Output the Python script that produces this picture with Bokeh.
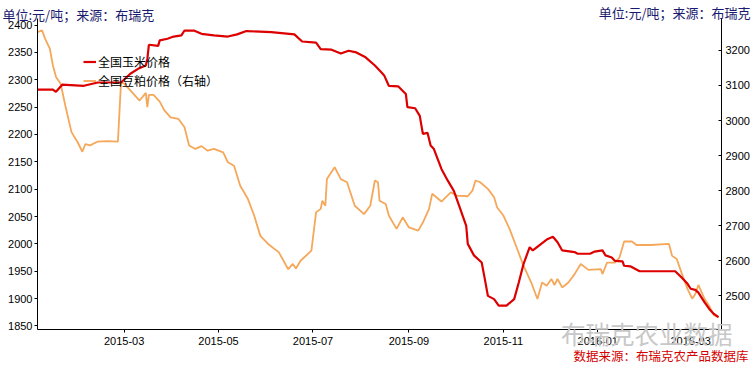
import pandas as pd
from bokeh.plotting import figure
from bokeh.models import (Range1d, LinearAxis, FixedTicker, DatetimeTickFormatter,
                          Legend, LegendItem, Title)
from bokeh.embed import file_html
from bokeh.resources import INLINE

# ---------------- data ----------------
corn_dates = [
    "2015-01-04", "2015-01-14", "2015-01-16", "2015-01-20", "2015-02-03", "2015-02-12",
    "2015-02-27", "2015-03-05", "2015-03-10", "2015-03-15", "2015-03-16", "2015-03-17",
    "2015-03-23", "2015-03-24", "2015-03-29", "2015-04-02", "2015-04-07", "2015-04-09",
    "2015-04-15", "2015-04-20", "2015-04-28", "2015-05-07", "2015-05-13", "2015-05-19",
    "2015-06-04", "2015-06-19", "2015-06-24", "2015-07-03", "2015-07-06", "2015-07-13",
    "2015-07-19", "2015-07-24", "2015-07-29", "2015-08-04", "2015-08-10", "2015-08-14",
    "2015-08-16", "2015-08-19", "2015-08-25", "2015-08-30", "2015-08-31", "2015-09-05",
    "2015-09-08", "2015-09-10", "2015-09-13", "2015-09-15", "2015-09-17", "2015-09-22",
    "2015-09-26", "2015-09-30", "2015-10-03", "2015-10-08", "2015-10-09", "2015-10-13",
    "2015-10-18", "2015-10-20", "2015-10-22", "2015-10-26", "2015-10-29", "2015-11-03",
    "2015-11-08", "2015-11-11", "2015-11-14", "2015-11-18", "2015-11-20", "2015-11-24",
    "2015-11-29", "2015-12-03", "2015-12-06", "2015-12-09", "2015-12-17", "2015-12-19",
    "2015-12-27", "2015-12-30", "2016-01-04", "2016-01-06", "2016-01-10", "2016-01-12",
    "2016-01-17", "2016-01-18", "2016-01-22", "2016-01-28", "2016-02-20", "2016-02-24",
    "2016-02-28", "2016-03-01", "2016-03-04", "2016-03-06", "2016-03-10", "2016-03-13",
    "2016-03-16", "2016-03-19",
]
corn_values = [
    2282, 2282, 2278, 2291, 2289, 2295,
    2295, 2311, 2320, 2326, 2338, 2364,
    2362, 2372, 2375, 2379, 2381, 2390,
    2390, 2384, 2381, 2379, 2383, 2389,
    2387, 2383, 2370, 2368, 2356, 2355,
    2348, 2353, 2350, 2341, 2326, 2314,
    2308, 2289, 2288, 2274, 2250, 2248,
    2234, 2201, 2203, 2180, 2174, 2137,
    2116, 2097, 2073, 2033, 2000, 1979,
    1966, 1936, 1905, 1899, 1887, 1887,
    1899, 1930, 1963, 1994, 1988, 1997,
    2008, 2013, 2003, 1988, 1985, 1982,
    1982, 1986, 1988, 1979, 1975, 1969,
    1968, 1960, 1959, 1950, 1950, 1939,
    1927, 1918, 1916, 1911, 1893, 1881,
    1872, 1866,
]

meal_dates = [
    "2015-01-04", "2015-01-07", "2015-01-09", "2015-01-12", "2015-01-14", "2015-01-16",
    "2015-01-19", "2015-01-22", "2015-01-26", "2015-01-30", "2015-02-02", "2015-02-04",
    "2015-02-07", "2015-02-12", "2015-02-18", "2015-02-25", "2015-02-27", "2015-03-01",
    "2015-03-05", "2015-03-11", "2015-03-15", "2015-03-16", "2015-03-17", "2015-03-20",
    "2015-03-24", "2015-03-27", "2015-03-31", "2015-04-05", "2015-04-09", "2015-04-12",
    "2015-04-16", "2015-04-20", "2015-04-24", "2015-04-28", "2015-05-04", "2015-05-07",
    "2015-05-11", "2015-05-15", "2015-05-20", "2015-05-24", "2015-05-28", "2015-06-02",
    "2015-06-09", "2015-06-15", "2015-06-18", "2015-06-20", "2015-06-23", "2015-06-30",
    "2015-07-03", "2015-07-06", "2015-07-07", "2015-07-09", "2015-07-10", "2015-07-15",
    "2015-07-19", "2015-07-23", "2015-07-28", "2015-08-03", "2015-08-07", "2015-08-10",
    "2015-08-12", "2015-08-13", "2015-08-17", "2015-08-19", "2015-08-24", "2015-08-28",
    "2015-09-01", "2015-09-07", "2015-09-10", "2015-09-14", "2015-09-16", "2015-09-22",
    "2015-09-28", "2015-10-02", "2015-10-09", "2015-10-12", "2015-10-14", "2015-10-17",
    "2015-10-22", "2015-10-26", "2015-10-28", "2015-11-01", "2015-11-05", "2015-11-10",
    "2015-11-14", "2015-11-19", "2015-11-23", "2015-11-26", "2015-11-29", "2015-12-02",
    "2015-12-04", "2015-12-06", "2015-12-09", "2015-12-13", "2015-12-17", "2015-12-21",
    "2015-12-26", "2016-01-03", "2016-01-04", "2016-01-07", "2016-01-12", "2016-01-15",
    "2016-01-18", "2016-01-23", "2016-01-26", "2016-02-04", "2016-02-16", "2016-02-18",
    "2016-02-21", "2016-02-24", "2016-02-28", "2016-03-02", "2016-03-04", "2016-03-06",
    "2016-03-10", "2016-03-13", "2016-03-16", "2016-03-19",
]
meal_values = [
    3252, 3257, 3233, 3205, 3157, 3124,
    3105, 3043, 2967, 2938, 2911, 2933,
    2929, 2940, 2941, 2940, 3109, 3105,
    3086, 3057, 3079, 3038, 3073, 3073,
    3054, 3029, 3009, 3005, 2981, 2929,
    2919, 2927, 2914, 2919, 2909, 2881,
    2871, 2814, 2776, 2729, 2671, 2648,
    2624, 2576, 2591, 2578, 2600, 2629,
    2738, 2748, 2771, 2757, 2833, 2867,
    2833, 2824, 2757, 2733, 2757, 2829,
    2824, 2771, 2762, 2729, 2691, 2724,
    2695, 2686, 2709, 2748, 2791, 2769,
    2795, 2786, 2784, 2800, 2829, 2824,
    2805, 2781, 2752, 2729, 2691, 2633,
    2586, 2538, 2491, 2538, 2529, 2548,
    2531, 2548, 2524, 2538, 2562, 2591,
    2574, 2576, 2562, 2595, 2595, 2609,
    2655, 2655, 2645, 2645, 2648, 2614,
    2605, 2567, 2519, 2492, 2505, 2531,
    2491, 2471, 2445, 2438,
]

x_tick_labels = ["2015-03", "2015-05", "2015-07", "2015-09", "2015-11", "2016-01", "2016-03"]
left_ticks = [1850, 1900, 1950, 2000, 2050, 2100, 2150, 2200, 2250, 2300, 2350, 2400]
right_ticks = [2500, 2600, 2700, 2800, 2900, 3000, 3100, 3200]

corn_name = "全国玉米价格"
meal_name = "全国豆粕价格（右轴）"
unit_text = "单位:元/吨；来源：布瑞克"
source_text = "数据来源：布瑞克农产品数据库"
watermark_text = "布瑞克农业数据"

# ---------------- figure ----------------
W, H = 756, 369
BL, BR, BT, BB = 37, 35, 18, 40

FONT = "Liberation Sans"
CJK = "Noto Sans CJK SC"
NAVY = "#1A1A6E"
RED = "#DD0000"
ORANGE = "#F5A75A"

x_start = pd.Timestamp("2015-01-04 01:00")
x_end = pd.Timestamp("2016-03-20 22:00")

p = figure(width=W, height=H, x_axis_type="datetime", output_backend="svg",
           toolbar_location=None,
           x_range=Range1d(x_start, x_end), y_range=Range1d(1843.5, 2412),
           min_border_left=BL, min_border_right=BR, min_border_top=BT, min_border_bottom=BB)
p.outline_line_color = None
p.xgrid.visible = False
p.ygrid.visible = False
p.background_fill_color = "white"
p.border_fill_color = "white"

p.extra_y_ranges = {"right": Range1d(2404, 3291)}

cd = pd.to_datetime(corn_dates)
md = pd.to_datetime(meal_dates)
r_meal = p.line(md, meal_values, line_color=ORANGE, line_width=1.8, y_range_name="right")
r_corn = p.line(cd, corn_values, line_color=RED, line_width=2.2)


def style_axis(ax):
    ax.axis_line_color = "black"
    ax.axis_line_width = 1
    ax.major_tick_line_color = "black"
    ax.major_tick_in = 0
    ax.major_tick_out = 3
    ax.minor_tick_line_color = None
    ax.major_label_text_font = FONT
    ax.major_label_text_font_size = "11px"
    ax.major_label_text_color = "black"
    ax.major_label_standoff = 2


xa = p.xaxis[0]
style_axis(xa)
xa.ticker = FixedTicker(ticks=[pd.Timestamp(s + "-01").value / 1e6 for s in x_tick_labels])
fmt = "%Y-%m"
xa.formatter = DatetimeTickFormatter(years=fmt, months=fmt, days=fmt, hours=fmt,
                                     minutes=fmt, seconds=fmt, milliseconds=fmt,
                                     microseconds=fmt, minsec=fmt, hourmin=fmt)
xa.major_label_standoff = 4

ya = p.yaxis[0]
style_axis(ya)
ya.ticker = FixedTicker(ticks=left_ticks)

ra = LinearAxis(y_range_name="right", ticker=FixedTicker(ticks=right_ticks))
style_axis(ra)
ra.major_tick_in = 3
ra.major_tick_out = 0
ra.major_label_standoff = 4
p.add_layout(ra, "right")

legend = Legend(items=[LegendItem(label=corn_name, renderers=[r_corn]),
                       LegendItem(label=meal_name, renderers=[r_meal])],
                location=(46, 239), orientation="vertical")
legend.background_fill_alpha = 0
legend.border_line_alpha = 0
legend.padding = 0
legend.margin = 0
legend.spacing = 0
legend.glyph_width = 13
legend.glyph_height = 19
legend.label_height = 19
legend.label_standoff = 2
legend.label_text_font = CJK
legend.label_text_font_size = "12px"
legend.label_text_color = "black"
p.add_layout(legend, "center")


def note(text, align, offset, standoff, valign, size, color):
    return Title(text=text, align=align, offset=offset, standoff=standoff,
                 vertical_align=valign, text_font=CJK, text_font_size=size,
                 text_font_style="normal", text_color=color)


# unit notes above the frame (left and right)
p.add_layout(note(unit_text, "left", -35, -10, "bottom", "13px", NAVY), "above")
p.add_layout(note(unit_text, "right", -29, -29, "bottom", "13px", NAVY), "above")
# data source note and faint watermark below the frame
p.add_layout(note(source_text, "right", -27, -3, "top", "12.5px", "#D40000"), "below")
p.add_layout(note(watermark_text, "right", -11, -100, "top", "24.5px", "#C8C8C8"), "below")

open("out.html", "w").write(file_html(p, INLINE))
